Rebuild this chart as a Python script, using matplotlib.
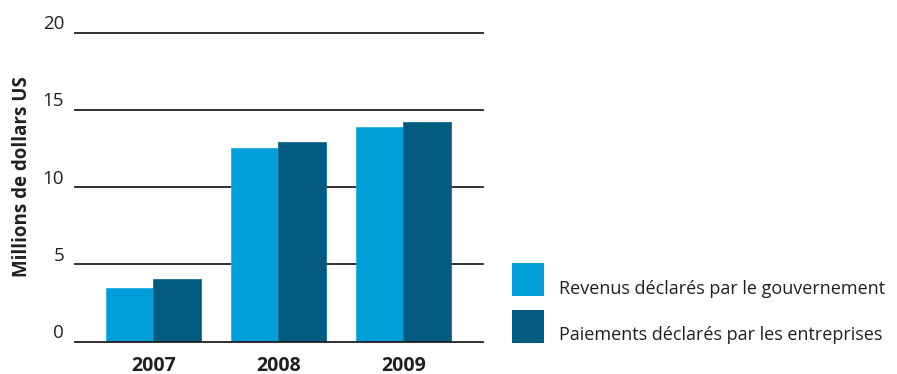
import matplotlib
matplotlib.use("Agg")
import matplotlib.pyplot as plt
from matplotlib.patches import Rectangle
import matplotlib.transforms as mtransforms

plt.rcParams['font.family'] = ['Open Sans', 'DejaVu Sans']

years = ["2007", "2008", "2009"]
revenus_gouv = [3.48, 12.54, 13.92]
paiements_entr = [4.04, 12.93, 14.22]
series_labels = ["Revenus déclarés par le gouvernement",
                 "Paiements déclarés par les entreprises"]
y_ticks = [0, 5, 10, 15, 20]

light = "#009FDA"
dark = "#015B80"
text_col = "#231F20"

fig = plt.figure(figsize=(8.97, 3.74), dpi=100)
ax = fig.add_axes([75 / 897, 1 - 341.7 / 374, 408 / 897, 309 / 374])

x = list(range(len(years)))
w = 0.378
ax.bar([i - w / 2 for i in x], revenus_gouv, width=w, color=light,
       edgecolor="#2AAEE0", linewidth=0.6, zorder=3)
ax.bar([i + w / 2 for i in x], paiements_entr, width=w, color=dark,
       edgecolor="#1A6E94", linewidth=0.6, zorder=3)

ax.set_xlim(-0.626, 2.638)
ax.set_ylim(0, 20)

for v in y_ticks:
    ax.axhline(v, color=text_col, linewidth=1.3, zorder=2 if v else 4, clip_on=False)

for s in ax.spines.values():
    s.set_visible(False)
ax.set_yticks([])
ax.set_xticks(x)
ax.set_xticklabels(years, fontsize=14, fontweight="bold", color=text_col)
ax.tick_params(axis="x", length=0, pad=10)

# y tick labels sit a little above their gridlines
off = mtransforms.offset_copy(ax.transData, fig=fig, x=-11, y=8.5, units="dots")
for v in y_ticks:
    ax.text(-0.626, v, str(v), transform=off, ha="right", va="center",
            fontsize=13.5, color=text_col)

fig.text(22 / 897, 1 - 176.5 / 374, "Millions de dollars US", rotation=90,
         ha="center", va="center", fontsize=13.5, fontweight="bold", color=text_col)

# legend
for (sq_top, col, lab, ty) in [(263.3, light, series_labels[0], 289),
                               (310.0, dark, series_labels[1], 335)]:
    fig.patches.append(Rectangle((512 / 897, 1 - (sq_top + 32.7) / 374),
                                 32 / 897, 32.7 / 374, transform=fig.transFigure,
                                 facecolor=col, edgecolor=col, linewidth=0))
    fig.text(559 / 897, 1 - ty / 374, lab, ha="left", va="center",
             fontsize=13, color=text_col)

fig.savefig("out.png", dpi=100)
